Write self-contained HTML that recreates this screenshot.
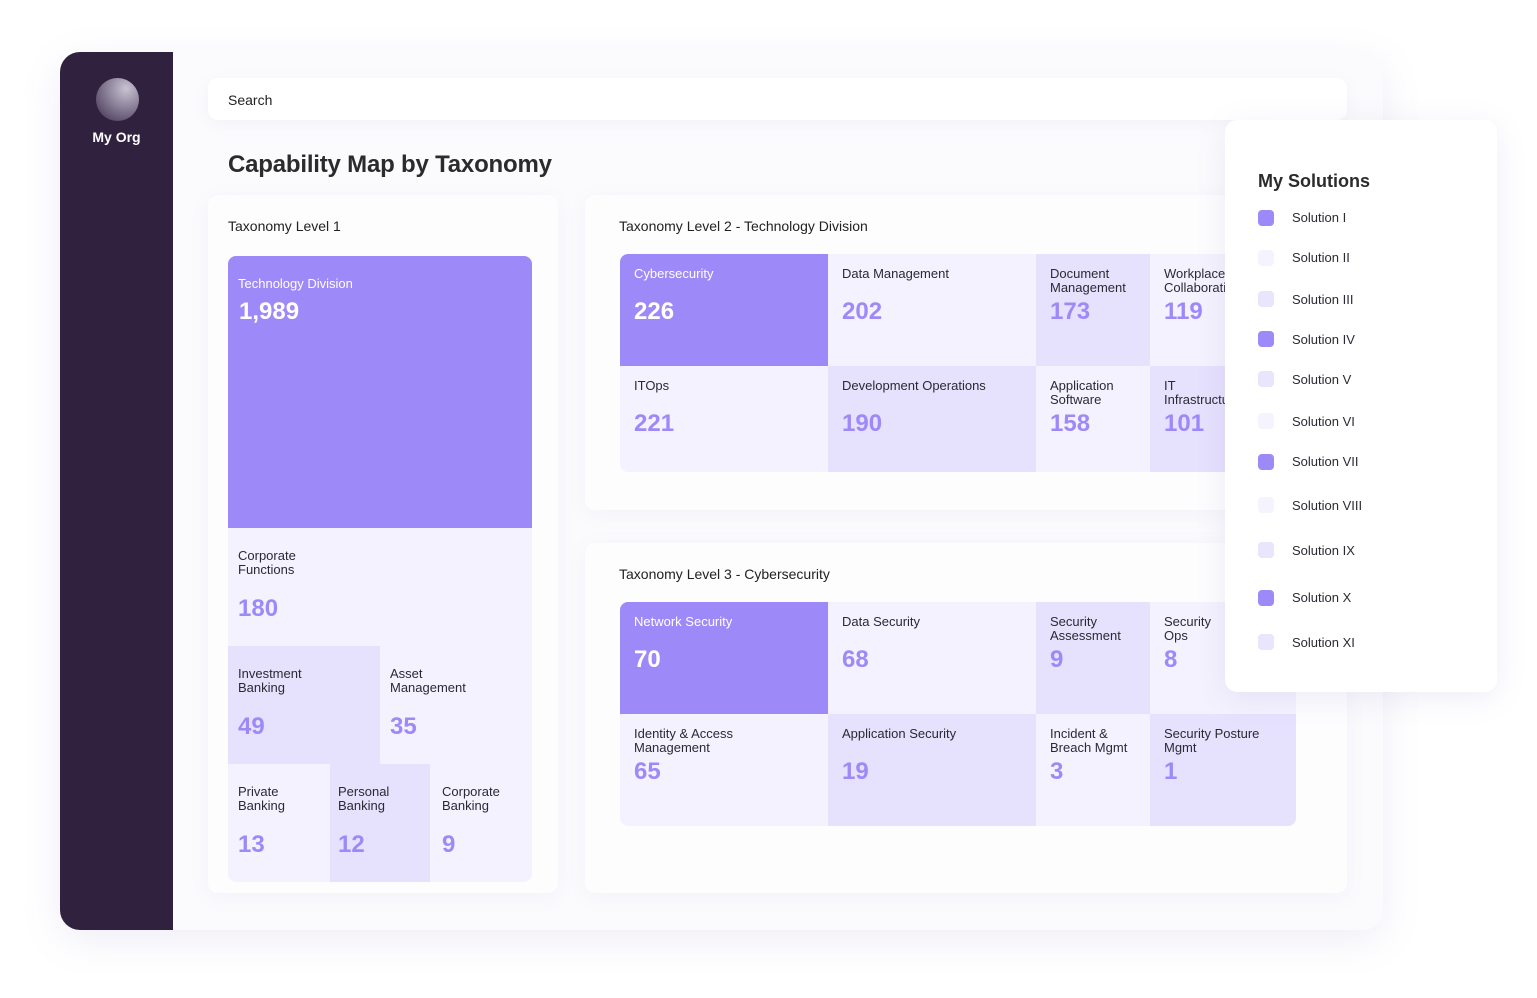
<!DOCTYPE html>
<html><head><meta charset="utf-8"><style>
*{margin:0;padding:0;box-sizing:border-box}
body{width:1537px;height:998px;background:#fff;font-family:"Liberation Sans",sans-serif;position:relative;overflow:hidden;color:#222}
.a{position:absolute}
.main{left:60px;top:52px;width:1323px;height:878px;background:#fbfbfd;border-radius:20px;box-shadow:0 10px 40px rgba(120,110,180,.12)}
.side{left:60px;top:52px;width:113px;height:878px;background:#30213f;border-radius:20px 0 0 20px}
.card{background:#fdfdfe;border-radius:10px;box-shadow:0 4px 20px rgba(120,110,180,.06)}
.c{position:absolute;font-size:13px;line-height:14px;color:#2a2a33}
.c .l{position:absolute;left:14px}
.c .n{position:absolute;left:14px;font-size:24px;line-height:24px;color:#9d89f8;font-weight:bold;margin-top:2px}
.p{background:#9d89f8}.p .l,.p .n{color:#fff}
.m{background:#e6e1fd}.s{background:#f4f2fe}
.leg{position:absolute;left:1258px;width:16px;height:16px;border-radius:4px}
.lt{position:absolute;left:1292px;font-size:13px;color:#2a2a33}
</style></head><body>
<div class="a main"></div>
<div class="a side"></div>
<div class="a" style="left:96px;top:78px;width:43px;height:43px;border-radius:50%;background:radial-gradient(circle at 70% 25%,#c9c3d2,#574a68 80%)"></div>
<div class="a" style="left:60px;width:113px;top:129px;text-align:center;color:#fff;font-weight:bold;font-size:14px">My Org</div>
<div class="a" style="left:208px;top:78px;width:1139px;height:42px;background:#fff;border-radius:10px;box-shadow:0 4px 16px rgba(120,110,180,.06)"></div>
<div class="a" style="left:228px;top:92px;font-size:14px">Search</div>
<div class="a" style="left:228px;top:151px;font-size:24px;font-weight:bold;color:#2b2b2b;letter-spacing:-0.2px">Capability Map by Taxonomy</div>

<div class="a card" style="left:208px;top:195px;width:350px;height:698px"></div>
<div class="a" style="left:228px;top:218px;font-size:14px">Taxonomy Level 1</div>
<div class="c p" style="left:228px;top:256px;width:304px;height:272px;border-radius:8px 8px 0 0"><span class="l" style="left:10px;top:21px">Technology Division</span><span class="n" style="left:11px;top:42px">1,989</span></div>
<div class="c s" style="left:228px;top:528px;width:304px;height:118px"><span class="l" style="left:10px;top:21px">Corporate<br>Functions</span><span class="n" style="left:10px;top:67px">180</span></div>
<div class="c m" style="left:228px;top:646px;width:152px;height:118px"><span class="l" style="left:10px;top:21px">Investment<br>Banking</span><span class="n" style="left:10px;top:67px">49</span></div>
<div class="c s" style="left:380px;top:646px;width:152px;height:118px"><span class="l" style="left:10px;top:21px">Asset<br>Management</span><span class="n" style="left:10px;top:67px">35</span></div>
<div class="c s" style="left:228px;top:764px;width:102px;height:118px;border-radius:0 0 0 8px"><span class="l" style="left:10px;top:21px">Private<br>Banking</span><span class="n" style="left:10px;top:67px">13</span></div>
<div class="c m" style="left:330px;top:764px;width:100px;height:118px"><span class="l" style="left:8px;top:21px">Personal<br>Banking</span><span class="n" style="left:8px;top:67px">12</span></div>
<div class="c s" style="left:430px;top:764px;width:102px;height:118px;border-radius:0 0 8px 0"><span class="l" style="left:12px;top:21px">Corporate<br>Banking</span><span class="n" style="left:12px;top:67px">9</span></div>

<div class="a card" style="left:585px;top:195px;width:762px;height:315px"></div>
<div class="a" style="left:619px;top:218px;font-size:14px">Taxonomy Level 2 - Technology Division</div>
<div class="c p" style="left:620px;top:254px;width:208px;height:112px;border-radius:8px 0 0 0"><span class="l" style="top:13px">Cybersecurity</span><span class="n" style="top:44px">226</span></div>
<div class="c s" style="left:828px;top:254px;width:208px;height:112px"><span class="l" style="top:13px">Data Management</span><span class="n" style="top:44px">202</span></div>
<div class="c m" style="left:1036px;top:254px;width:114px;height:112px"><span class="l" style="top:13px">Document<br>Management</span><span class="n" style="top:44px">173</span></div>
<div class="c s" style="left:1150px;top:254px;width:146px;height:112px;border-radius:0 8px 0 0"><span class="l" style="top:13px">Workplace<br>Collaboration</span><span class="n" style="top:44px">119</span></div>
<div class="c s" style="left:620px;top:366px;width:208px;height:106px;border-radius:0 0 0 8px"><span class="l" style="top:13px">ITOps</span><span class="n" style="top:44px">221</span></div>
<div class="c m" style="left:828px;top:366px;width:208px;height:106px"><span class="l" style="top:13px">Development Operations</span><span class="n" style="top:44px">190</span></div>
<div class="c s" style="left:1036px;top:366px;width:114px;height:106px"><span class="l" style="top:13px">Application<br>Software</span><span class="n" style="top:44px">158</span></div>
<div class="c m" style="left:1150px;top:366px;width:146px;height:106px;border-radius:0 0 8px 0"><span class="l" style="top:13px">IT<br>Infrastructure</span><span class="n" style="top:44px">101</span></div>

<div class="a card" style="left:585px;top:543px;width:762px;height:350px"></div>
<div class="a" style="left:619px;top:566px;font-size:14px">Taxonomy Level 3 - Cybersecurity</div>
<div class="c p" style="left:620px;top:602px;width:208px;height:112px;border-radius:8px 0 0 0"><span class="l" style="top:13px">Network Security</span><span class="n" style="top:44px">70</span></div>
<div class="c s" style="left:828px;top:602px;width:208px;height:112px"><span class="l" style="top:13px">Data Security</span><span class="n" style="top:44px">68</span></div>
<div class="c m" style="left:1036px;top:602px;width:114px;height:112px"><span class="l" style="top:13px">Security<br>Assessment</span><span class="n" style="top:44px">9</span></div>
<div class="c s" style="left:1150px;top:602px;width:146px;height:112px;border-radius:0 8px 0 0"><span class="l" style="top:13px">Security<br>Ops</span><span class="n" style="top:44px">8</span></div>
<div class="c s" style="left:620px;top:714px;width:208px;height:112px;border-radius:0 0 0 8px"><span class="l" style="top:13px">Identity &amp; Access<br>Management</span><span class="n" style="top:44px">65</span></div>
<div class="c m" style="left:828px;top:714px;width:208px;height:112px"><span class="l" style="top:13px">Application Security</span><span class="n" style="top:44px">19</span></div>
<div class="c s" style="left:1036px;top:714px;width:114px;height:112px"><span class="l" style="top:13px">Incident &amp;<br>Breach Mgmt</span><span class="n" style="top:44px">3</span></div>
<div class="c m" style="left:1150px;top:714px;width:146px;height:112px;border-radius:0 0 8px 0"><span class="l" style="top:13px">Security Posture<br>Mgmt</span><span class="n" style="top:44px">1</span></div>

<div class="a" style="left:1225px;top:120px;width:272px;height:572px;background:#fff;border-radius:12px;box-shadow:0 6px 30px rgba(120,110,180,.12)"></div>
<div class="a" style="left:1258px;top:171px;font-size:18px;font-weight:bold;color:#2b2b2b">My Solutions</div>
<div class="leg" style="top:210px;background:#9d89f8"></div><div class="lt" style="top:210px">Solution I</div>
<div class="leg" style="top:250px;background:#f5f3fe"></div><div class="lt" style="top:250px">Solution II</div>
<div class="leg" style="top:291px;background:#e9e5fd"></div><div class="lt" style="top:292px">Solution III</div>
<div class="leg" style="top:331px;background:#9d89f8"></div><div class="lt" style="top:332px">Solution IV</div>
<div class="leg" style="top:371px;background:#e9e5fd"></div><div class="lt" style="top:372px">Solution V</div>
<div class="leg" style="top:413px;background:#f5f3fe"></div><div class="lt" style="top:414px">Solution VI</div>
<div class="leg" style="top:454px;background:#9d89f8"></div><div class="lt" style="top:454px">Solution VII</div>
<div class="leg" style="top:497px;background:#f5f3fe"></div><div class="lt" style="top:498px">Solution VIII</div>
<div class="leg" style="top:542px;background:#e9e5fd"></div><div class="lt" style="top:543px">Solution IX</div>
<div class="leg" style="top:590px;background:#9d89f8"></div><div class="lt" style="top:590px">Solution X</div>
<div class="leg" style="top:634px;background:#e9e5fd"></div><div class="lt" style="top:635px">Solution XI</div>
</body></html>
